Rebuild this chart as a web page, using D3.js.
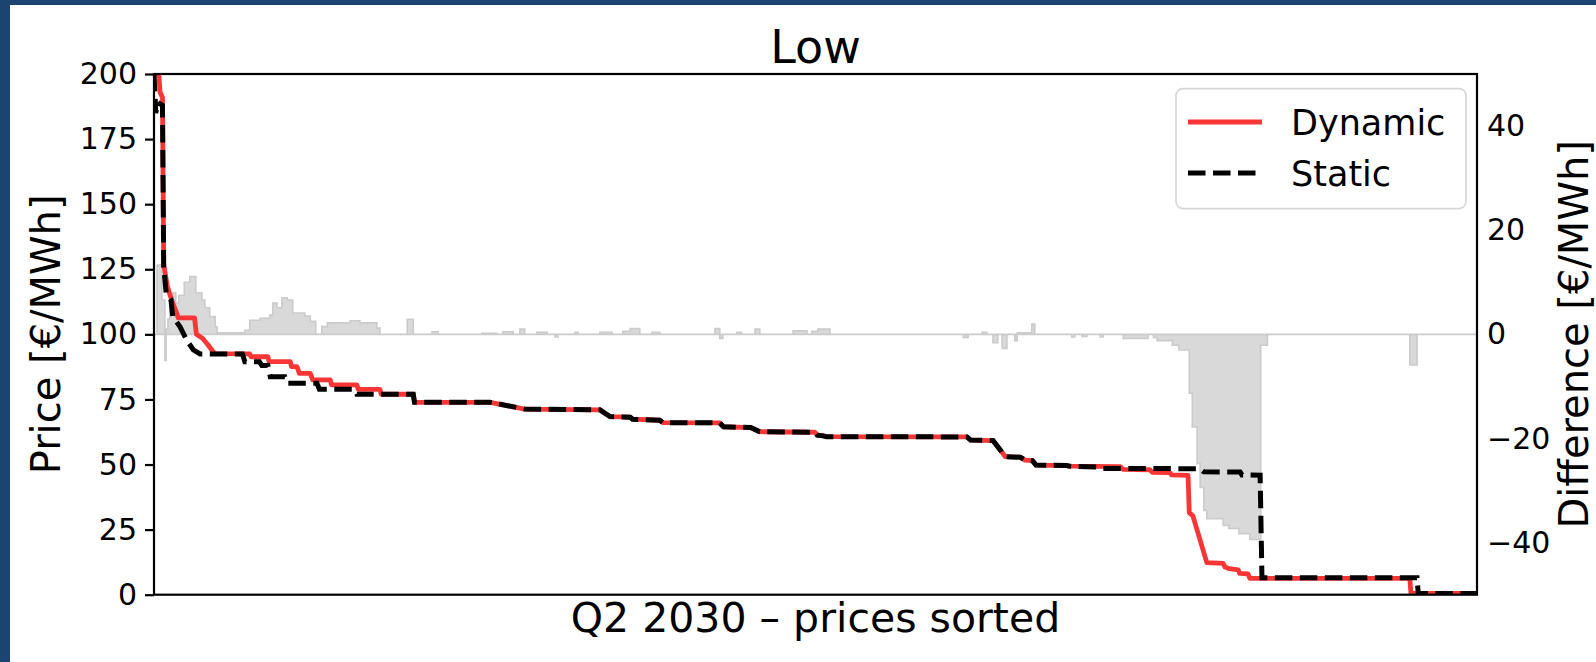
<!DOCTYPE html>
<html>
<head>
<meta charset="utf-8">
<script src="https://cdn.jsdelivr.net/npm/d3@7"></script>
<style>
  html, body { margin: 0; padding: 0; background: #fff; }
  svg { display: block; font-family: "DejaVu Sans", sans-serif; }
</style>
</head>
<body>
<svg id="chart" width="1596" height="662"></svg>
<script>
// Sorted hourly prices for Q2 2030 (hour rank, €/MWh)
const HOURS = 2184;

const dynamicPrice = [
  [0,200],[8,200],[10,193],[14,191],[16,127],[22,118.5],[28,114],[31,112],[37,108.5],[40,106.3],
  [67,106.3],[70,100],[80,98.5],[89,96],[97,93.5],[101,92.6],[158,92.5],[160,91.4],[188,91.4],
  [190,89.5],[225,89.5],[227,87.6],[236,87.6],[240,85.0],[258,85.0],[262,82.5],[291,82.5],
  [293,80.6],[335,80.6],[337,78.9],[373,78.9],[375,77.0],[428,77.0],[430,73.9],[555,73.9],
  [612,71.3],[736,71.0],[745,69.6],[753,68.4],[786,68.2],[790,67.4],[835,67.0],[840,66.1],
  [934,66.0],[940,64.5],[985,64.2],[1000,62.6],[1091,62.4],[1095,61.3],[1105,61.0],[1110,60.7],
  [1342,60.6],[1348,59.4],[1385,59.2],[1397,55.6],[1405,53.0],[1430,52.8],[1438,51.7],[1450,51.5],
  [1456,49.8],[1507,49.6],[1510,49.4],[1595,49.2],[1600,48.1],[1644,48.0],[1648,47.0],[1677,46.9],
  [1680,46.0],[1707,45.8],[1709,31.5],[1715,30.3],[1738,12.3],[1765,12.0],[1768,10.6],[1775,10.0],
  [1790,9.5],[1792,8.2],[1806,8.0],[1809,6.3],[2073,6.3],[2075,0.5],[2184,0.5]
];

const staticPrice = [
  [0,200],[3,185],[6,189],[14,188],[16,126],[20,116],[28,113.2],[31,106.8],[43,102.9],[54,97.8],
  [65,94.0],[76,92.5],[146,92.5],[150,89.5],[174,89.5],[178,88.0],[188,88.0],[192,83.7],[216,83.7],
  [220,81.2],[269,81.2],[273,78.9],[331,78.9],[335,77.0],[428,77.0],[430,73.9],[555,73.9],
  [612,71.3],[736,71.0],[745,69.6],[753,68.4],[786,68.2],[790,67.4],[835,67.0],[840,66.1],
  [934,66.0],[940,64.5],[985,64.2],[1000,62.6],[1091,62.4],[1095,61.3],[1105,61.0],[1110,60.7],
  [1342,60.6],[1348,59.4],[1385,59.2],[1397,55.6],[1405,53.0],[1430,52.8],[1438,51.7],[1450,51.5],
  [1456,49.8],[1507,49.6],[1510,49.4],[1560,49.0],[1565,48.5],[1727,48.4],[1733,47.2],[1793,47.1],
  [1796,46.0],[1826,45.9],[1829,6.5],[2085,6.5],[2087,0.5],[2184,0.5]
];

// Dynamic minus static, step-wise (hour rank, €/MWh)
const priceDiff = [
  [0,0],[5,13.3],[13,6.6],[18,-5.0],[20,1.0],[23,3.0],[26,5.5],[31,8.0],[36,6.0],[41,7.5],
  [50,10.0],[59,11.1],[69,8.0],[79,6.6],[84,5.1],[92,3.4],[101,1.5],[104,0.3],[150,0.8],
  [158,2.7],[175,3.1],[191,3.7],[196,6.0],[203,5.1],[211,7.0],[220,6.6],[229,4.1],[249,3.5],
  [258,2.5],[267,0],[277,1.5],[286,2.2],[324,2.6],[340,2.2],[368,1.2],[373,0],[418,2.9],[428,0],
  [459,0.5],[469,0],[541,0.2],[566,0],[576,0.5],[593,0],[604,1.0],[612,0],[632,0.4],[649,0],
  [662,-0.5],[667,0],[695,0.4],[700,0],[736,0.4],[743,0],[745,0.4],[756,0],[774,0.6],[786,1.1],
  [802,0],[822,0.4],[835,0],[926,1.1],[934,-0.8],[939,0],[962,0.4],[970,0],[992,1.0],[1000,0],
  [1055,0.7],[1078,0],[1086,0.6],[1096,1.0],[1116,0],[1336,-0.6],[1344,0],[1367,0.4],[1375,0],
  [1385,-1.6],[1393,0],[1400,-2.7],[1408,0],[1421,-1.2],[1425,0.3],[1449,2.0],[1454,0],
  [1515,-0.5],[1520,0],[1532,-0.4],[1540,0],[1562,-0.5],[1567,0],[1600,-0.8],[1641,0],
  [1650,-0.6],[1656,-1.2],[1681,-2.1],[1692,-3.0],[1709,-11.3],[1714,-17.8],[1722,-24.8],
  [1727,-29.4],[1733,-33.8],[1738,-35.4],[1765,-36.7],[1774,-37.3],[1791,-38.3],[1809,-39.4],
  [1827,-2.1],[1838,0],[2073,-5.9],[2085,0],[2184,0]
];

const priceTicks = [0, 25, 50, 75, 100, 125, 150, 175, 200];
const diffTicks = [-40, -20, 0, 20, 40];
const seriesNames = ["Dynamic", "Static"];
const titleText = "Low";
const xLabel = "Q2 2030 \u2013 prices sorted";
const yLabel = "Price [\u20AC/MWh]";
const y2Label = "Difference [\u20AC/MWh]";

const W = 1596, H = 662;
const plot = { left: 154, right: 1477, top: 74, bottom: 594.7 };

const svg = d3.select("#chart");

// page frame
svg.append("rect").attr("width", W).attr("height", H).attr("fill", "#1b4570");
svg.append("rect").attr("x", 10).attr("y", 5).attr("width", W - 10).attr("height", H - 5).attr("fill", "#ffffff");

const x = d3.scaleLinear().domain([0, HOURS]).range([plot.left, plot.right]);
const y = d3.scaleLinear().domain([0, 200]).range([plot.bottom, plot.top]);
const y2 = d3.scaleLinear().domain([-50, 50]).range([plot.bottom, plot.top]);

svg.append("defs").append("clipPath").attr("id", "plotClip")
  .append("rect").attr("x", plot.left).attr("y", plot.top)
  .attr("width", plot.right - plot.left).attr("height", plot.bottom - plot.top);

const g = svg.append("g").attr("clip-path", "url(#plotClip)");

// difference area on the secondary axis
const diffArea = d3.area()
  .x(d => x(d[0]))
  .y0(y2(0))
  .y1(d => y2(d[1]))
  .curve(d3.curveStepAfter);
g.append("path").datum(priceDiff)
  .attr("d", diffArea)
  .attr("fill", "#d9d9d9")
  .attr("stroke", "#cbcbcb")
  .attr("stroke-width", 1.6);

const line = d3.line().x(d => x(d[0])).y(d => y(d[1]));

const dynStyle = { stroke: "#f93636", width: 4.8, dash: null };
const staStyle = { stroke: "#000000", width: 5.0, dash: "17.5 7.5" };

g.append("path").datum(dynamicPrice)
  .attr("d", line)
  .attr("fill", "none")
  .attr("stroke", dynStyle.stroke)
  .attr("stroke-width", dynStyle.width)
  .attr("stroke-linejoin", "round");

g.append("path").datum(staticPrice)
  .attr("d", line)
  .attr("fill", "none")
  .attr("stroke", staStyle.stroke)
  .attr("stroke-width", staStyle.width)
  .attr("stroke-dasharray", staStyle.dash);

// axes
const tickFont = 30;
const leftAxis = d3.axisLeft(y).tickValues(priceTicks).tickSize(9).tickPadding(8);
const gl = svg.append("g").attr("transform", `translate(${plot.left},0)`).call(leftAxis);
gl.select(".domain").remove();
gl.selectAll(".tick line").attr("stroke", "#000").attr("stroke-width", 2.2);
gl.selectAll(".tick text").attr("font-size", tickFont).attr("font-family", "DejaVu Sans").attr("fill", "#000");

const fmtMinus = d => (d < 0 ? "\u2212" + Math.abs(d) : String(d));
const rightAxis = d3.axisRight(y2).tickValues(diffTicks).tickSize(0).tickPadding(10).tickFormat(fmtMinus);
const gr = svg.append("g").attr("transform", `translate(${plot.right},0)`).call(rightAxis);
gr.select(".domain").remove();
gr.selectAll(".tick text").attr("font-size", tickFont).attr("font-family", "DejaVu Sans").attr("fill", "#000");

// frame
svg.append("rect")
  .attr("x", plot.left).attr("y", plot.top)
  .attr("width", plot.right - plot.left).attr("height", plot.bottom - plot.top)
  .attr("fill", "none").attr("stroke", "#000").attr("stroke-width", 2.2);

// titles
svg.append("text").attr("x", (plot.left + plot.right) / 2).attr("y", 63)
  .attr("text-anchor", "middle").attr("font-size", 46).text(titleText);
svg.append("text").attr("x", (plot.left + plot.right) / 2).attr("y", 632)
  .attr("text-anchor", "middle").attr("font-size", 41).text(xLabel);
svg.append("text").attr("transform", `translate(60,${(plot.top + plot.bottom) / 2}) rotate(-90)`)
  .attr("text-anchor", "middle").attr("font-size", 40).text(yLabel);
svg.append("text").attr("transform", `translate(1588,${(plot.top + plot.bottom) / 2}) rotate(-90)`)
  .attr("text-anchor", "middle").attr("font-size", 40).text(y2Label);

// legend
const lg = svg.append("g");
lg.append("rect").attr("x", 1176).attr("y", 88.6).attr("width", 290).attr("height", 120)
  .attr("rx", 7).attr("fill", "#ffffff").attr("fill-opacity", 0.85)
  .attr("stroke", "#d6d6d6").attr("stroke-width", 1.6);
[dynStyle, staStyle].forEach((s, i) => {
  const ly = 122 + i * 51;
  lg.append("line").attr("x1", 1188).attr("x2", 1262).attr("y1", ly).attr("y2", ly)
    .attr("stroke", s.stroke).attr("stroke-width", s.width)
    .attr("stroke-dasharray", s.dash);
  lg.append("text").attr("x", 1291).attr("y", ly).attr("dy", "0.36em")
    .attr("font-size", 35).text(seriesNames[i]);
});
</script>
</body>
</html>
